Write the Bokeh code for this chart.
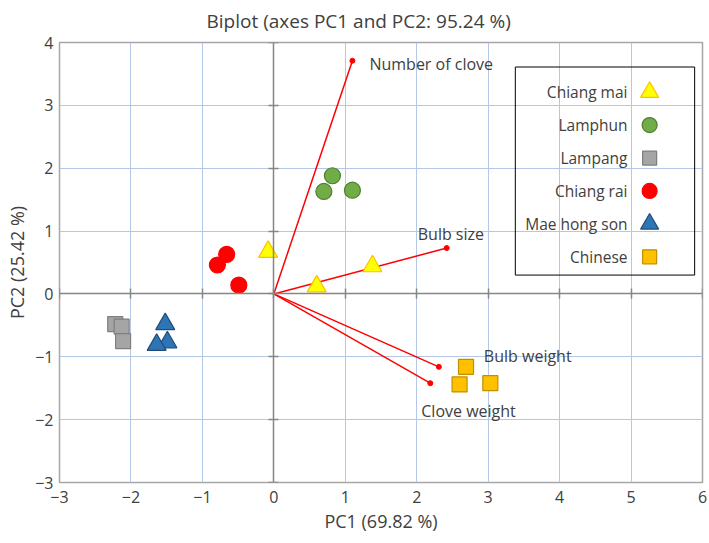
from bokeh.plotting import figure
from bokeh.models import Range1d, LinearAxis, FixedTicker, ColumnDataSource
from bokeh.core.properties import value
from bokeh.embed import file_html
from bokeh.resources import INLINE

# ---------------- data ----------------
title_text = "Biplot (axes PC1 and PC2: 95.24 %)"
x_label = "PC1 (69.82 %)"
y_label = "PC2 (25.42 %)"
x_ticks = [-3, -2, -1, 0, 1, 2, 3, 4, 5, 6]
y_ticks = [-3, -2, -1, 0, 1, 2, 3, 4]

groups = ["Chiang mai", "Lamphun", "Lampang", "Chiang rai", "Mae hong son", "Chinese"]
chiang_mai_pc1 = [-0.08, 0.60, 1.38]
chiang_mai_pc2 = [0.67, 0.12, 0.44]
lamphun_pc1 = [0.82, 0.70, 1.10]
lamphun_pc2 = [1.88, 1.63, 1.65]
lampang_pc1 = [-2.22, -2.13, -2.11]
lampang_pc2 = [-0.48, -0.52, -0.75]
chiang_rai_pc1 = [-0.66, -0.79, -0.49]
chiang_rai_pc2 = [0.63, 0.46, 0.14]
mae_hong_son_pc1 = [-1.52, -1.49, -1.64]
mae_hong_son_pc2 = [-0.48, -0.77, -0.81]
chinese_pc1 = [2.69, 2.60, 3.03]
chinese_pc2 = [-1.16, -1.44, -1.42]

variables = ["Number of clove", "Bulb size", "Bulb weight", "Clove weight"]
var_pc1 = [1.10, 2.42, 2.31, 2.19]
var_pc2 = [3.71, 0.73, -1.16, -1.42]

# ---------------- styles ----------------
FONT = "Open Sans"
TXT = "#404040"
group_pc1 = [chiang_mai_pc1, lamphun_pc1, lampang_pc1, chiang_rai_pc1, mae_hong_son_pc1, chinese_pc1]
group_pc2 = [chiang_mai_pc2, lamphun_pc2, lampang_pc2, chiang_rai_pc2, mae_hong_son_pc2, chinese_pc2]
markers = ["triangle", "circle", "square", "circle", "triangle", "square"]
fills = ["#FFFF00", "#70AD47", "#A5A5A5", "#FF0000", "#2E75B6", "#FFC000"]
lines = ["#FFC000", "#507E32", "#7F7F7F", "#FF0000", "#1F4E79", "#BF9000"]
sizes = [19, 16, 15, 16, 19, 15]
label_dx = [17, -29, 45, -9]
label_dy = [3, -14, -11, 28]

p = figure(width=709, height=543, output_backend="svg", toolbar_location=None,
           x_range=Range1d(-3, 6), y_range=Range1d(-3, 4),
           min_border_left=59, min_border_right=7, min_border_top=42, min_border_bottom=61)

p.title.text = title_text
p.title.align = "left"
p.title.vertical_align = "top"
p.title.standoff = 14
p.title.offset = 147
p.title.text_font = FONT
p.title.text_font_size = "19px"
p.title.text_font_style = "normal"
p.title.text_color = TXT

p.outline_line_color = "#A6A6A6"
p.outline_line_width = 1.5
p.outline_line_alpha = 1.0

def minus(v):
    return ("\u2212" + str(abs(v))) if v < 0 else str(v)

for ax, ticks, lab in ((p.xaxis[0], x_ticks, x_label), (p.yaxis[0], y_ticks, y_label)):
    ax.ticker = FixedTicker(ticks=ticks)
    ax.major_label_overrides = {t: minus(t) for t in ticks}
    ax.axis_label = lab
    ax.axis_label_text_font = FONT
    ax.axis_label_text_font_size = "18px"
    ax.axis_label_text_font_style = "normal"
    ax.axis_label_text_color = TXT
    ax.major_label_text_font = FONT
    ax.major_label_text_font_size = "16px"
    ax.major_label_text_color = TXT
    ax.axis_line_color = None
    ax.major_tick_line_color = None
    ax.major_tick_in = 0
    ax.major_tick_out = 0
    ax.minor_tick_line_color = None
    ax.minor_tick_in = 0
    ax.minor_tick_out = 0
p.xaxis.major_label_standoff = 8
p.xaxis.axis_label_standoff = 3
p.yaxis.major_label_standoff = 6
p.yaxis.axis_label_standoff = 3

p.xgrid.ticker = FixedTicker(ticks=x_ticks)
p.ygrid.ticker = FixedTicker(ticks=y_ticks)
p.grid.grid_line_color = "#B4C7E7"
p.grid.grid_line_width = 1
p.grid.grid_line_alpha = 1

# zero axes with cross ticks
for loc, ticks, side in ((0, x_ticks, "below"), (0, y_ticks, "left")):
    zax = LinearAxis(fixed_location=loc, ticker=FixedTicker(ticks=ticks))
    zax.major_label_text_font_size = "0px"
    zax.major_label_standoff = 0
    zax.axis_line_color = "#868686"
    zax.axis_line_width = 1.5
    zax.major_tick_line_color = "#868686"
    zax.major_tick_line_width = 1.5
    zax.major_tick_in = 5
    zax.major_tick_out = 5
    zax.minor_tick_line_color = None
    p.add_layout(zax, side)

# loading vectors
vsrc = ColumnDataSource(dict(x0=[0] * len(variables), y0=[0] * len(variables),
                             x1=var_pc1, y1=var_pc2, name=variables,
                             dx=label_dx, dy=label_dy))
p.segment("x0", "y0", "x1", "y1", source=vsrc, line_color="#FF0000", line_width=1.5)
p.scatter("x1", "y1", source=vsrc, size=5, color="#FF0000")
p.text("x1", "y1", text="name", source=vsrc, x_offset="dx", y_offset="dy",
       text_font=value(FONT), text_font_size="16px", text_color=TXT,
       text_align="left", text_baseline="middle")

# observations
for g, xs, ys, m, fc, lc, s in zip(groups, group_pc1, group_pc2, markers, fills, lines, sizes):
    p.scatter(xs, ys, marker=m, size=s, fill_color=fc, line_color=lc, line_width=1.2)

# legend (drawn manually: label right-aligned, marker on the right)
leg_left, leg_right, leg_top, leg_bottom = 3.38, 5.89, 3.61, 0.30
leg_text_x, leg_mark_x = 4.95, 5.26
leg_first_y, leg_step = 3.21, 0.524
p.quad(left=[leg_left], right=[leg_right], top=[leg_top], bottom=[leg_bottom],
       fill_color=None, line_color="#000000", line_width=1)
ly = [leg_first_y - i * leg_step for i in range(len(groups))]
p.text([leg_text_x] * len(groups), ly, text=groups, text_font=value(FONT),
       text_font_size="15.5px", text_color=TXT, text_align="right", text_baseline="middle")
for i in range(len(groups)):
    p.scatter([leg_mark_x], [ly[i]], marker=markers[i], size=sizes[i] - 1,
              fill_color=fills[i], line_color=lines[i], line_width=1.2)

open("out.html", "w").write(file_html(p, INLINE))
